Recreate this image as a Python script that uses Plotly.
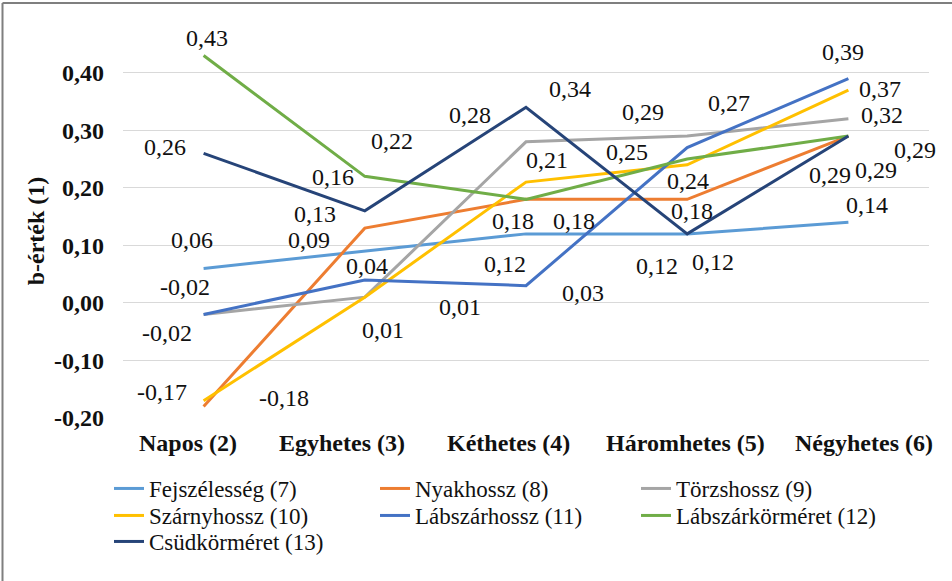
import plotly.graph_objects as go

categories = ["Napos (2)", "Egyhetes (3)", "Kéthetes (4)", "Háromhetes (5)", "Négyhetes (6)"]

fejszelesseg = [0.06, 0.09, 0.12, 0.12, 0.14]
nyakhossz = [-0.18, 0.13, 0.18, 0.18, 0.29]
torzshossz = [-0.02, 0.01, 0.28, 0.29, 0.32]
szarnyhossz = [-0.17, 0.01, 0.21, 0.24, 0.37]
labszarhossz = [-0.02, 0.04, 0.03, 0.27, 0.39]
labszarkormeret = [0.43, 0.22, 0.18, 0.25, 0.29]
csudkormeret = [0.26, 0.16, 0.34, 0.12, 0.29]

series_names = ["Fejszélesség (7)", "Nyakhossz (8)", "Törzshossz (9)", "Szárnyhossz (10)",
                "Lábszárhossz (11)", "Lábszárkörméret (12)", "Csüdkörméret (13)"]

y_tick_vals = [-0.2, -0.1, 0.0, 0.1, 0.2, 0.3, 0.4]
y_tick_labels = ["-0,20", "-0,10", "0,00", "0,10", "0,20", "0,30", "0,40"]
y_title = "b-érték (1)"

# styling / label placement (pixel offsets of labels)
colors = ["#5B9BD5", "#ED7D31", "#A5A5A5", "#FFC000", "#4472C4", "#70AD47", "#264478"]
label_offsets = [
    [(-12, 28), (-56, 11), (-21, -30), (26, -28), (19, 17)],
    [(80, 8), (-50, 14), (-13, -22), (5, -12), (28, -34)],
    [(-37, -19), (95, -10), (-56, 27), (-44, 24), (34, 4)],
    [(-42, 9), (18, -33), (21, 22), (1, -16), (32, 1)],
    [(-19, 27), (2, 14), (57, -7), (42, 45), (-5, 27)],
    [(3, 18), (27, 35), (48, -22), (-60, 7), (67, -14)],
    [(-39, 6), (-32, 34), (44, 18), (-30, -32), (-18, -39)],
]
category_label_shifts = [-16, -23, -18, -2, 16]
legend_cols_px = [109, 375, 636]
legend_rows_px = [467, 494, 520]

all_series = [fejszelesseg, nyakhossz, torzshossz, szarnyhossz, labszarhossz,
              labszarkormeret, csudkormeret]

SERIF = "Liberation Serif"
TXT = "#111111"
W, H = 952, 581

fig = go.Figure()
legend_layouts = {}
for i, (name, vals, col) in enumerate(zip(series_names, all_series, colors)):
    key = "legend" if i == 0 else f"legend{i + 1}"
    fig.add_trace(go.Scatter(x=categories, y=vals, mode="lines", name=name,
                             line=dict(color=col, width=3), legend=key))
    legend_layouts[key] = dict(
        xref="container", yref="container",
        x=legend_cols_px[i % 3] / W, y=1 - legend_rows_px[i // 3] / H,
        xanchor="left", yanchor="top", orientation="h",
        font=dict(family=SERIF, size=23, color=TXT),
        bgcolor="rgba(0,0,0,0)")

def fmt(v):
    return f"{v:.2f}".replace(".", ",")

for vals, offs in zip(all_series, label_offsets):
    for cat, v, (dx, dy) in zip(categories, vals, offs):
        fig.add_annotation(x=cat, y=v, text=fmt(v), showarrow=False,
                           xshift=dx, yshift=dy,
                           font=dict(family=SERIF, size=24, color=TXT))

# category axis labels (bold), placed under the plot area
for cat, dx in zip(categories, category_label_shifts):
    fig.add_annotation(x=cat, xref="x", y=0, yref="paper", yanchor="middle",
                       text=cat, showarrow=False, xshift=dx, yshift=-25,
                       font=dict(family=SERIF, size=24, color=TXT, weight="bold"))

ml, mr, mt, mb = 123, 23, 44, 163
pw, ph = W - ml - mr, H - mt - mb

def px_x(p):
    return (p - ml) / pw

def px_y(p):
    return (H - mb - p) / ph

fig.add_shape(type="line", xref="paper", yref="paper",
              x0=px_x(2.5), x1=px_x(952), y0=px_y(3), y1=px_y(3),
              line=dict(color="#7F7F7F", width=2))
fig.add_shape(type="line", xref="paper", yref="paper",
              x0=px_x(2.5), x1=px_x(2.5), y0=px_y(3), y1=px_y(581),
              line=dict(color="#7F7F7F", width=2))

fig.update_layout(
    width=W, height=H,
    font=dict(family=SERIF, color=TXT),
    margin=dict(l=ml, r=mr, t=mt, b=mb, pad=0, autoexpand=False),
    paper_bgcolor="white", plot_bgcolor="white",
    showlegend=True,
    xaxis=dict(type="category", range=[-0.5, 4.5], showgrid=False, zeroline=False,
               showline=False, ticks="", showticklabels=False),
    yaxis=dict(range=[-0.2, 0.45], tickvals=y_tick_vals, ticktext=y_tick_labels,
               showgrid=True, gridcolor="#D9D9D9", gridwidth=1, zeroline=False,
               showline=False, ticks="", ticklabelstandoff=18,
               tickfont=dict(family=SERIF, size=24, color=TXT, weight="bold"),
               title=dict(text=y_title, standoff=2,
                          font=dict(family=SERIF, size=24, color=TXT, weight="bold"))),
    **legend_layouts,
)

fig.write_html("out.html", config={"displayModeBar": False},
               post_script="document.body.style.margin='0';")
